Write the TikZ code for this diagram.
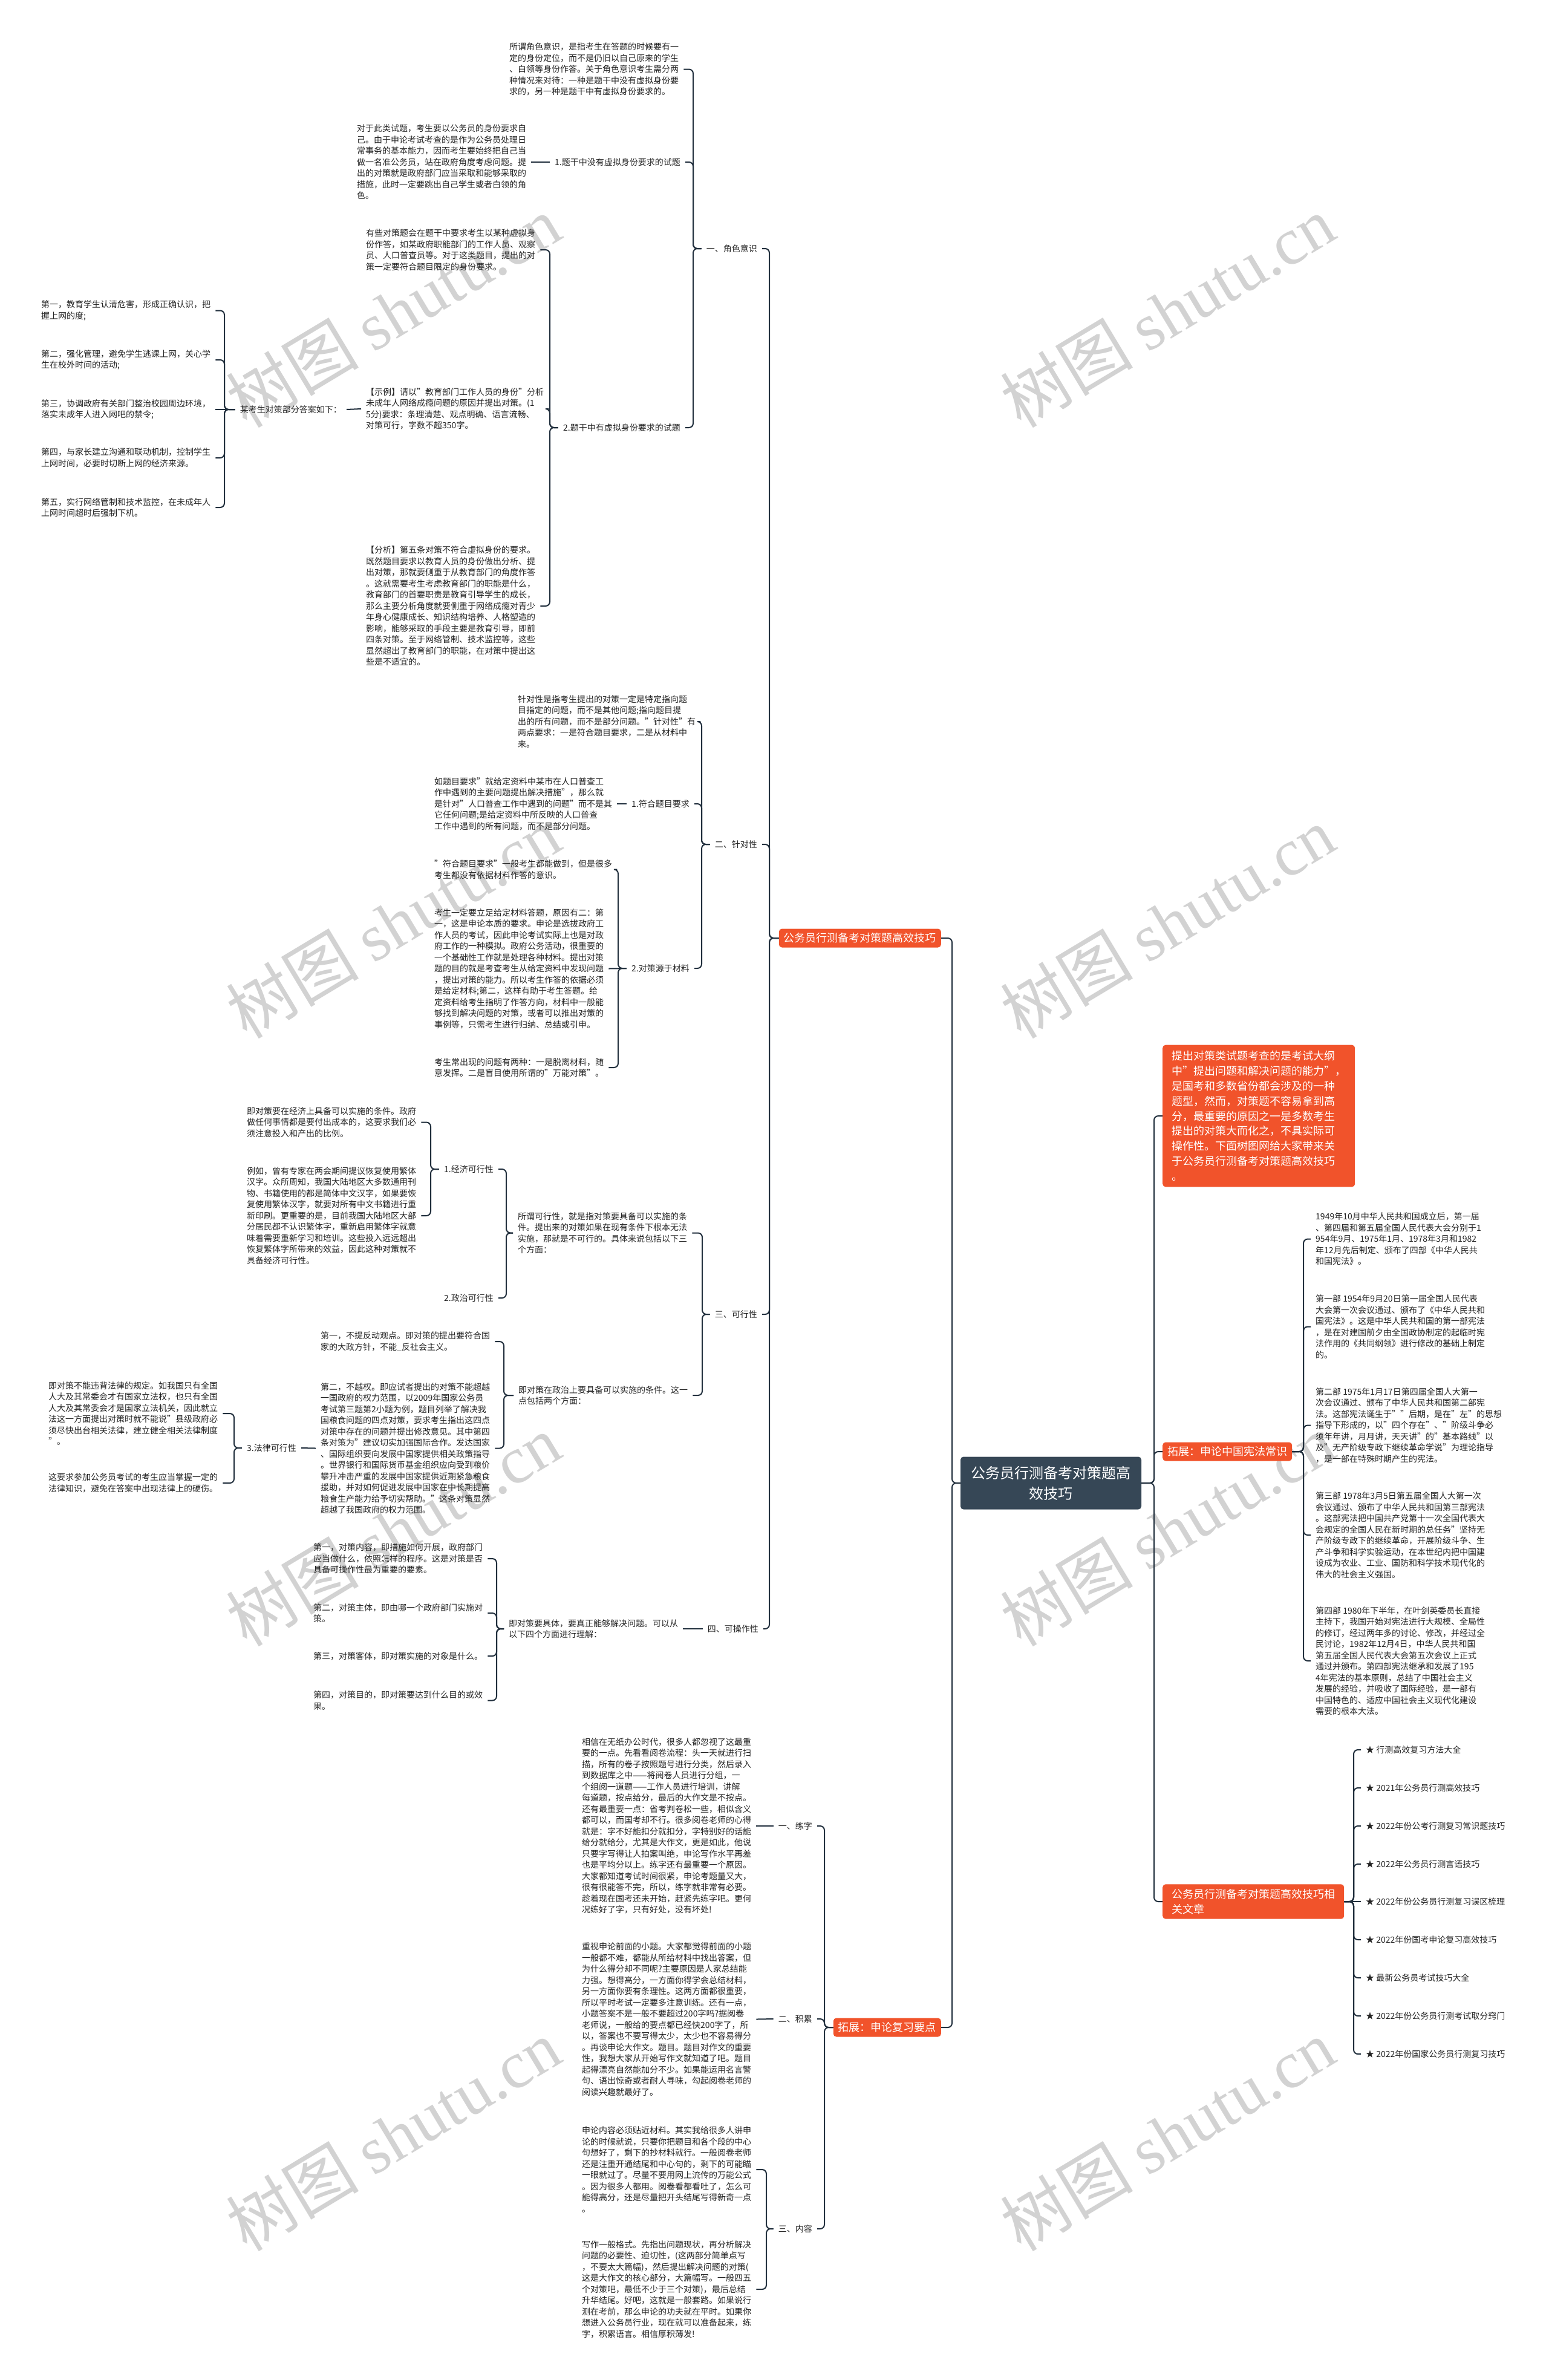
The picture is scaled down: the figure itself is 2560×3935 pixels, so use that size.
\documentclass[tikz,border=0pt]{standalone}
\usepackage{fontspec}
\setmainfont{Noto Sans CJK SC}
\newfontfamily\wmlatin{Liberation Serif}
\definecolor{linec}{RGB}{33,47,61}
\definecolor{redn}{RGB}{241,83,43}
\definecolor{darkn}{RGB}{54,71,86}
\definecolor{txtc}{RGB}{35,35,35}
\definecolor{wmc}{RGB}{210,210,210}
\begin{document}
\begin{tikzpicture}[x=1pt,y=-1pt,
  every node/.style={text=txtc},
  txt/.style={font=\fontsize{14}{18.5}\selectfont, align=left, inner xsep=8pt, inner ysep=2pt},
  lbl/.style={font=\fontsize{14}{18.5}\selectfont, inner xsep=8pt, inner ysep=2pt},
  rednode/.style={fill=redn, text=white, rounded corners=5pt, font=\fontsize{18}{24.8}\selectfont, inner xsep=8pt, minimum height=31pt},
  conn/.style={draw=linec, line width=2pt, rounded corners=7pt},
  wm/.style={text=wmc, font=\fontsize{110}{110}\selectfont, rotate=31}
]
\fill[white] (0,0) rectangle (2560,3935);
\useasboundingbox (0,0) rectangle (2560,3935);

% watermarks
\foreach \wx/\wy [count=\i] in {650/515,1930/515,650/1525,1930/1525,650/2530,1930/2530,650/3530,1930/3530}
  \node[wm] (wm\i) at (\wx,\wy) {树图 {\wmlatin shutu.cn}};

% trunk coordinates
\coordinate (tL) at (1574,0);
\coordinate (tR) at (1908,0);
\coordinate (tR1) at (1272,0);
\coordinate (tA) at (1146,0);
\coordinate (tA2) at (909,0);
\coordinate (tA21) at (371,0);
\coordinate (tB) at (1160,0);
\coordinate (tB2) at (1022,0);
\coordinate (tC) at (1161,0);
\coordinate (tC1) at (837,0);
\coordinate (tC11) at (712,0);
\coordinate (tC2) at (833,0);
\coordinate (tC3) at (387,0);
\coordinate (tD) at (821,0);
\coordinate (tE) at (1363,0);
\coordinate (tE3) at (1267,0);
\coordinate (tX) at (2155,0);
\coordinate (tS) at (2238,0);

% center
\node[fill=darkn, text=white, rounded corners=5pt, font=\fontsize{24}{34}\selectfont, align=center, minimum width=299pt, minimum height=87pt] (C) at (1737.5,2452) {公务员行测备考对策题高\\效技巧};

% level 1 left
\node[rednode, anchor=east] (R1) at (1556,1551) {公务员行测备考对策题高效技巧};
\node[rednode, anchor=east] (R2) at (1556,3352) {拓展：申论复习要点};

% level 1 right
\node[rednode, anchor=west, align=left, inner xsep=15pt, inner ysep=10pt] (RB1) at (1922,1845) {提出对策类试题考查的是考试大纲\\中"提出问题和解决问题的能力"，\\是国考和多数省份都会涉及的一种\\题型，然而，对策题不容易拿到高\\分，最重要的原因之一是多数考生\\提出的对策大而化之，不具实际可\\操作性。下面树图网给大家带来关\\于公务员行测备考对策题高效技巧\\。};
\node[rednode, anchor=west] (RB2) at (1922,2400) {拓展：申论中国宪法常识};
\node[rednode, anchor=west, align=left, inner xsep=15pt, inner ysep=8pt] (RB3) at (1922,3144) {公务员行测备考对策题高效技巧相\\关文章};

% ===== branch 一
\node[lbl, anchor=east] (L1) at (1260,411) {一、角色意识};
\node[txt, anchor=west] (T1) at (834,114.5) {所谓角色意识，是指考生在答题的时候要有一\\定的身份定位，而不是仍旧以自己原来的学生\\、白领等身份作答。关于角色意识考生需分两\\种情况来对待：一种是题干中没有虚拟身份要\\求的，另一种是题干中有虚拟身份要求的。};
\node[lbl, anchor=east] (L11) at (1133,268) {1.题干中没有虚拟身份要求的试题};
\node[txt, anchor=west] (T2) at (582,268) {对于此类试题，考生要以公务员的身份要求自\\己。由于申论考试考查的是作为公务员处理日\\常事务的基本能力，因而考生要始终把自己当\\做一名准公务员，站在政府角度考虑问题。提\\出的对策就是政府部门应当采取和能够采取的\\措施，此时一定要跳出自己学生或者白领的角\\色。};
\node[lbl, anchor=east] (L12) at (1133,707) {2.题干中有虚拟身份要求的试题};
\node[txt, anchor=west] (T3) at (597,413) {有些对策题会在题干中要求考生以某种虚拟身\\份作答，如某政府职能部门的工作人员、观察\\员、人口普查员等。对于这类题目，提出的对\\策一定要符合题目限定的身份要求。};
\node[txt, anchor=west] (T4) at (597,676) {【示例】请以"教育部门工作人员的身份"分析\\未成年人网络成瘾问题的原因并提出对策。(1\\5分)要求：条理清楚、观点明确、语言流畅、\\对策可行，字数不超350字。};
\node[txt, anchor=west] (T5) at (597,1002) {【分析】第五条对策不符合虚拟身份的要求。\\既然题目要求以教育人员的身份做出分析、提\\出对策，那就要侧重于从教育部门的角度作答\\。这就需要考生考虑教育部门的职能是什么，\\教育部门的首要职责是教育引导学生的成长，\\那么主要分析角度就要侧重于网络成瘾对青少\\年身心健康成长、知识结构培养、人格塑造的\\影响，能够采取的手段主要是教育引导，即前\\四条对策。至于网络管制、技术监控等，这些\\显然超出了教育部门的职能，在对策中提出这\\些是不适宜的。};
\node[lbl, anchor=east] (L121) at (573,677) {某考生对策部分答案如下：};
\node[txt, anchor=west] (I1) at (60,513.5) {第一，教育学生认清危害，形成正确认识，把\\握上网的度;};
\node[txt, anchor=west] (I2) at (60,595) {第二，强化管理，避免学生逃课上网，关心学\\生在校外时间的活动;};
\node[txt, anchor=west] (I3) at (60,677) {第三，协调政府有关部门整治校园周边环境，\\落实未成年人进入网吧的禁令;};
\node[txt, anchor=west] (I4) at (60,757) {第四，与家长建立沟通和联动机制，控制学生\\上网时间，必要时切断上网的经济来源。};
\node[txt, anchor=west] (I5) at (60,839) {第五，实行网络管制和技术监控，在未成年人\\上网时间超时后强制下机。};

% ===== branch 二
\node[lbl, anchor=east] (L2) at (1260,1396) {二、针对性};
\node[txt, anchor=west] (T6) at (848,1193) {针对性是指考生提出的对策一定是特定指向题\\目指定的问题，而不是其他问题;指向题目提\\出的所有问题，而不是部分问题。"针对性"有\\两点要求：一是符合题目要求，二是从材料中\\来。};
\node[lbl, anchor=east] (L21) at (1148,1329) {1.符合题目要求};
\node[txt, anchor=west] (T7) at (710,1329) {如题目要求"就给定资料中某市在人口普查工\\作中遇到的主要问题提出解决措施"，那么就\\是针对"人口普查工作中遇到的问题"而不是其\\它任何问题;是给定资料中所反映的人口普查\\工作中遇到的所有问题，而不是部分问题。};
\node[lbl, anchor=east] (L22) at (1148,1601) {2.对策源于材料};
\node[txt, anchor=west] (T8) at (710,1437.5) {"符合题目要求"一般考生都能做到，但是很多\\考生都没有依据材料作答的意识。};
\node[txt, anchor=west] (T9) at (710,1601.5) {考生一定要立足给定材料答题，原因有二：第\\一，这是申论本质的要求。申论是选拔政府工\\作人员的考试，因此申论考试实际上也是对政\\府工作的一种模拟。政府公务活动，很重要的\\一个基础性工作就是处理各种材料。提出对策\\题的目的就是考查考生从给定资料中发现问题\\，提出对策的能力。所以考生作答的依据必须\\是给定材料;第二，这样有助于考生答题。给\\定资料给考生指明了作答方向，材料中一般能\\够找到解决问题的对策，或者可以推出对策的\\事例等，只需考生进行归纳、总结或引申。};
\node[txt, anchor=west] (T10) at (710,1765) {考生常出现的问题有两种：一是脱离材料，随\\意发挥。二是盲目使用所谓的"万能对策"。};

% ===== branch 三
\node[lbl, anchor=east] (L3) at (1260,2173) {三、可行性};
\node[txt, anchor=west] (T13) at (848,2038.5) {所谓可行性，就是指对策要具备可以实施的条\\件。提出来的对策如果在现有条件下根本无法\\实施，那就是不可行的。具体来说包括以下三\\个方面：};
\node[lbl, anchor=east] (L31) at (824,1933) {1.经济可行性};
\node[lbl, anchor=east] (L32) at (824,2146) {2.政治可行性};
\node[txt, anchor=west] (T11) at (400,1855.5) {即对策要在经济上具备可以实施的条件。政府\\做任何事情都是要付出成本的，这要求我们必\\须注意投入和产出的比例。};
\node[txt, anchor=west] (T12) at (400,2010) {例如，曾有专家在两会期间提议恢复使用繁体\\汉字。众所周知，我国大陆地区大多数通用刊\\物、书籍使用的都是简体中文汉字，如果要恢\\复使用繁体汉字，就要对所有中文书籍进行重\\新印刷。更重要的是，目前我国大陆地区大部\\分居民都不认识繁体字，重新启用繁体字就意\\味着需要重新学习和培训。这些投入远远超出\\恢复繁体字所带来的效益，因此这种对策就不\\具备经济可行性。};
\node[txt, anchor=west] (TP) at (849,2307) {即对策在政治上要具备可以实施的条件。这一\\点包括两个方面：};
\node[txt, anchor=west] (TP1) at (522,2218) {第一，不提反动观点。即对策的提出要符合国\\家的大政方针，不能\_反社会主义。};
\node[txt, anchor=west] (TP2) at (522,2394.5) {第二，不越权。即应试者提出的对策不能超越\\一国政府的权力范围，以2009年国家公务员\\考试第三题第2小题为例，题目列举了解决我\\国粮食问题的四点对策，要求考生指出这四点\\对策中存在的问题并提出修改意见。其中第四\\条对策为"建议切实加强国际合作。发达国家\\、国际组织要向发展中国家提供相关政策指导\\。世界银行和国际货币基金组织应向受到粮价\\攀升冲击严重的发展中国家提供近期紧急粮食\\援助，并对如何促进发展中国家在中长期提高\\粮食生产能力给予切实帮助。"这条对策显然\\超越了我国政府的权力范围。};
\node[lbl, anchor=east] (L33) at (498,2394) {3.法律可行性};
\node[txt, anchor=west] (TL1) at (72,2337) {即对策不能违背法律的规定。如我国只有全国\\人大及其常委会才有国家立法权，也只有全国\\人大及其常委会才是国家立法机关，因此就立\\法这一方面提出对策时就不能说"县级政府必\\须尽快出台相关法律，建立健全相关法律制度\\"。};
\node[txt, anchor=west] (TL2) at (72,2452) {这要求参加公务员考试的考生应当掌握一定的\\法律知识，避免在答案中出现法律上的硬伤。};

% ===== branch 四
\node[lbl, anchor=east] (L4) at (1262,2693) {四、可操作性};
\node[txt, anchor=west] (T4a) at (833,2693) {即对策要具体，要真正能够解决问题。可以从\\以下四个方面进行理解：};
\node[txt, anchor=west] (D1) at (510,2577) {第一，对策内容，即措施如何开展，政府部门\\应当做什么，依照怎样的程序。这是对策是否\\具备可操作性最为重要的要素。};
\node[txt, anchor=west] (D2) at (510,2667) {第二，对策主体，即由哪一个政府部门实施对\\策。};
\node[txt, anchor=west] (D3) at (510,2738) {第三，对策客体，即对策实施的对象是什么。};
\node[txt, anchor=west] (D4) at (510,2811.5) {第四，对策目的，即对策要达到什么目的或效\\果。};

% ===== 拓展：申论复习要点
\node[lbl, anchor=east] (E1) at (1351,3019) {一、练字};
\node[txt, anchor=west] (E1T) at (954,3019) {相信在无纸办公时代，很多人都忽视了这最重\\要的一点。先看看阅卷流程：头一天就进行扫\\描，所有的卷子按照题号进行分类，然后录入\\到数据库之中——将阅卷人员进行分组，一\\个组阅一道题——工作人员进行培训，讲解\\每道题，按点给分，最后的大作文是不按点。\\还有最重要一点：省考判卷松一些，相似含义\\都可以，而国考却不行。很多阅卷老师的心得\\就是：字不好能扣分就扣分，字特别好的话能\\给分就给分，尤其是大作文，更是如此，他说\\只要字写得让人拍案叫绝，申论写作水平再差\\也是平均分以上。练字还有最重要一个原因。\\大家都知道考试时间很紧，申论考题量又大，\\很有很能答不完，所以，练字就非常有必要。\\趁着现在国考还未开始，赶紧先练字吧。更何\\况练好了字，只有好处，没有坏处!};
\node[lbl, anchor=east] (E2) at (1351,3338) {二、积累};
\node[txt, anchor=west] (E2T) at (954,3338.5) {重视申论前面的小题。大家都觉得前面的小题\\一般都不难，都能从所给材料中找出答案，但\\为什么得分却不同呢?主要原因是人家总结能\\力强。想得高分，一方面你得学会总结材料，\\另一方面你要有条理性。这两方面都很重要，\\所以平时考试一定要多注意训练。还有一点，\\小题答案不是一般不要超过200字吗?据阅卷\\老师说，一般给的要点都已经快200字了，所\\以，答案也不要写得太少，太少也不容易得分\\。再谈申论大作文。题目。题目对作文的重要\\性，我想大家从开始写作文就知道了吧。题目\\起得漂亮自然能加分不少。如果能运用名言警\\句、语出惊奇或者耐人寻味，勾起阅卷老师的\\阅读兴趣就最好了。};
\node[lbl, anchor=east] (E3) at (1351,3685) {三、内容};
\node[txt, anchor=west] (E3T1) at (954,3587) {申论内容必须贴近材料。其实我给很多人讲申\\论的时候就说，只要你把题目和各个段的中心\\句想好了，剩下的抄材料就行。一般阅卷老师\\还是注重开通结尾和中心句的，剩下的可能瞄\\一眼就过了。尽量不要用网上流传的万能公式\\。因为很多人都用。阅卷看都看吐了，怎么可\\能得高分，还是尽量把开头结尾写得新奇一点\\。};
\node[txt, anchor=west] (E3T2) at (954,3785) {写作一般格式。先指出问题现状，再分析解决\\问题的必要性、迫切性，(这两部分简单点写\\，不要太大篇幅)，然后提出解决问题的对策(\\这是大作文的核心部分，大篇幅写。一般四五\\个对策吧，最低不少于三个对策)，最后总结\\升华结尾。好吧，这就是一般套路。如果说行\\测在考前，那么申论的功夫就在平时。如果你\\想进入公务员行业，现在就可以准备起来，练\\字，积累语言。相信厚积薄发!};

% ===== right: 宪法
\node[txt, anchor=west] (X1) at (2167,2048.5) {1949年10月中华人民共和国成立后，第一届\\、第四届和第五届全国人民代表大会分别于1\\954年9月、1975年1月、1978年3月和1982\\年12月先后制定、颁布了四部《中华人民共\\和国宪法》。};
\node[txt, anchor=west] (X2) at (2167,2193.5) {第一部 1954年9月20日第一届全国人民代表\\大会第一次会议通过、颁布了《中华人民共和\\国宪法》。这是中华人民共和国的第一部宪法\\，是在对建国前夕由全国政协制定的起临时宪\\法作用的《共同纲领》进行修改的基础上制定\\的。};
\node[txt, anchor=west] (X3) at (2167,2356.5) {第二部 1975年1月17日第四届全国人大第一\\次会议通过、颁布了中华人民共和国第二部宪\\法。这部宪法诞生于""后期，是在"左"的思想\\指导下形成的，以"四个存在"、"阶级斗争必\\须年年讲，月月讲，天天讲"的"基本路线"以\\及"无产阶级专政下继续革命学说"为理论指导\\，是一部在特殊时期产生的宪法。};
\node[txt, anchor=west] (X4) at (2167,2538) {第三部 1978年3月5日第五届全国人大第一次\\会议通过、颁布了中华人民共和国第三部宪法\\。这部宪法把中国共产党第十一次全国代表大\\会规定的全国人民在新时期的总任务"坚持无\\产阶级专政下的继续革命，开展阶级斗争、生\\产斗争和科学实验运动，在本世纪内把中国建\\设成为农业、工业、国防和科学技术现代化的\\伟大的社会主义强国。};
\node[txt, anchor=west] (X5) at (2167,2746) {第四部 1980年下半年，在叶剑英委员长直接\\主持下，我国开始对宪法进行大规模、全局性\\的修订，经过两年多的讨论、修改，并经过全\\民讨论，1982年12月4日，中华人民共和国\\第五届全国人民代表大会第五次会议上正式\\通过并颁布。第四部宪法继承和发展了195\\4年宪法的基本原则，总结了中国社会主义\\发展的经验，并吸收了国际经验，是一部有\\中国特色的、适应中国社会主义现代化建设\\需要的根本大法。};

% ===== right: 相关文章
\node[lbl, anchor=west] (S1) at (2250,2893) {★ 行测高效复习方法大全};
\node[lbl, anchor=west] (S2) at (2250,2956) {★ 2021年公务员行测高效技巧};
\node[lbl, anchor=west] (S3) at (2250,3019) {★ 2022年份公考行测复习常识题技巧};
\node[lbl, anchor=west] (S4) at (2250,3082) {★ 2022年公务员行测言语技巧};
\node[lbl, anchor=west] (S5) at (2250,3144) {★ 2022年份公务员行测复习误区梳理};
\node[lbl, anchor=west] (S6) at (2250,3207) {★ 2022年份国考申论复习高效技巧};
\node[lbl, anchor=west] (S7) at (2250,3270) {★ 最新公务员考试技巧大全};
\node[lbl, anchor=west] (S8) at (2250,3333) {★ 2022年份公务员行测考试取分窍门};
\node[lbl, anchor=west] (S9) at (2250,3396) {★ 2022年份国家公务员行测复习技巧};

% ===== connectors
\foreach \n in {R1,R2} \draw[conn] (C.west) -- (C.west -| tL) |- (\n.east);
\foreach \n in {RB1,RB2,RB3} \draw[conn] (C.east) -- (C.east -| tR) |- (\n.west);
\foreach \n in {L1,L2,L3,L4} \draw[conn] (R1.west) -- (R1.west -| tR1) |- (\n.east);
\foreach \n in {T1,L11,L12} \draw[conn] (L1.west) -- (L1.west -| tA) |- (\n.east);
\draw[conn] (L11.west) -- (T2.east);
\foreach \n in {T3,T4,T5} \draw[conn] (L12.west) -- (L12.west -| tA2) |- (\n.east);
\draw[conn] (T4.west) -- (L121.east);
\foreach \n in {I1,I2,I4,I5} \draw[conn] (L121.west) -- (L121.west -| tA21) |- (\n.east);
\draw[conn] (L121.west) -- (I3.east);
\foreach \n in {T6,L21,L22} \draw[conn] (L2.west) -- (L2.west -| tB) |- (\n.east);
\draw[conn] (L21.west) -- (T7.east);
\foreach \n in {T8,T10} \draw[conn] (L22.west) -- (L22.west -| tB2) |- (\n.east);
\draw[conn] (L22.west) -- (T9.east);
\foreach \n in {T13,TP} \draw[conn] (L3.west) -- (L3.west -| tC) |- (\n.east);
\foreach \n in {L31,L32} \draw[conn] (T13.west) -- (T13.west -| tC1) |- (\n.east);
\foreach \n in {T11,T12} \draw[conn] (L31.west) -- (L31.west -| tC11) |- (\n.east);
\foreach \n in {TP1,TP2} \draw[conn] (TP.west) -- (TP.west -| tC2) |- (\n.east);
\draw[conn] (TP2.west) -- (L33.east);
\foreach \n in {TL1,TL2} \draw[conn] (L33.west) -- (L33.west -| tC3) |- (\n.east);
\draw[conn] (L4.west) -- (T4a.east);
\foreach \n in {D1,D2,D3,D4} \draw[conn] (T4a.west) -- (T4a.west -| tD) |- (\n.east);
\foreach \n in {E1,E2,E3} \draw[conn] (R2.west) -- (R2.west -| tE) |- (\n.east);
\draw[conn] (E1.west) -- (E1T.east);
\draw[conn] (E2.west) -- (E2T.east);
\foreach \n in {E3T1,E3T2} \draw[conn] (E3.west) -- (E3.west -| tE3) |- (\n.east);
\foreach \n in {X1,X2,X3,X4,X5} \draw[conn] (RB2.east) -- (RB2.east -| tX) |- (\n.west);
\foreach \n in {S1,S2,S3,S4,S6,S7,S8,S9} \draw[conn] (RB3.east) -- (RB3.east -| tS) |- (\n.west);
\draw[conn] (RB3.east) -- (S5.west);
\end{tikzpicture}
\end{document}
